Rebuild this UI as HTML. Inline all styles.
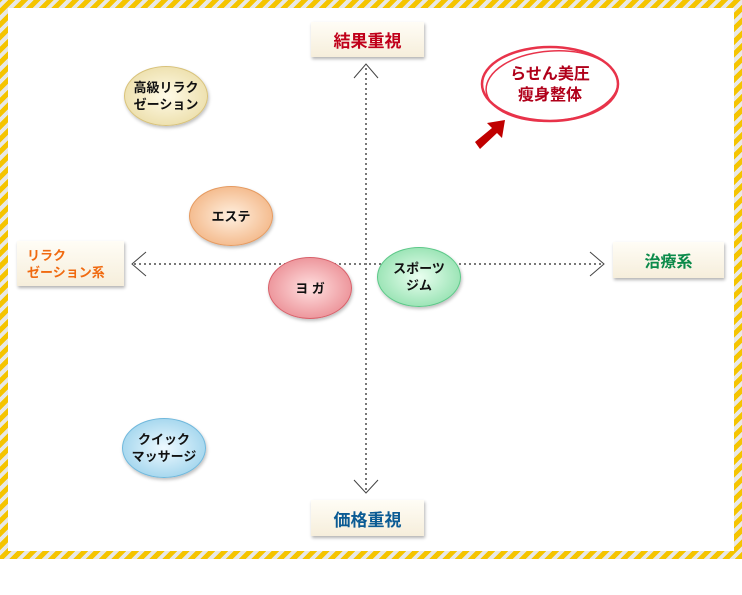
<!DOCTYPE html>
<html><head><meta charset="utf-8"><style>
body{margin:0;width:742px;height:595px;background:#fff;position:relative;overflow:hidden;font-family:"Liberation Sans","Noto Sans CJK JP",sans-serif;}
.frame{position:absolute;left:0;top:0;width:742px;height:559px;box-sizing:border-box;
background:repeating-linear-gradient(-45deg,#f5c400 0 5px,#e8e8e8 5px 9px);}
.inner{position:absolute;left:8px;top:8px;width:726px;height:543px;background:#fff;}
.lab{position:absolute;box-sizing:border-box;background:linear-gradient(#fffdf6,#f6eedb);box-shadow:1px 2px 3px rgba(0,0,0,.3);font-weight:bold;display:flex;align-items:center;justify-content:center;text-align:center;}
.el{position:absolute;box-sizing:border-box;border-radius:50%;display:flex;align-items:center;justify-content:center;text-align:center;font-weight:bold;font-size:13px;line-height:17px;color:#111;box-shadow:1px 2px 3px rgba(0,0,0,.25);}
</style></head><body>
<div class="frame"></div><div class="inner"></div>
<svg style="position:absolute;left:0;top:0" width="742" height="595">
<line x1="134" y1="264" x2="602" y2="264" stroke="#777" stroke-width="2" stroke-dasharray="2 3"/>
<line x1="366" y1="68" x2="366" y2="490" stroke="#777" stroke-width="2" stroke-dasharray="2 3"/>
<polyline points="146,252 132,264 146,276" fill="none" stroke="#444" stroke-width="1"/>
<polyline points="590,252 604,264 590,276" fill="none" stroke="#444" stroke-width="1"/>
<polyline points="354,78 366,64 378,78" fill="none" stroke="#444" stroke-width="1"/>
<polyline points="354,480 366,493 378,480" fill="none" stroke="#444" stroke-width="1"/>
<ellipse cx="550" cy="84" rx="68" ry="37" fill="none" stroke="#e8334a" stroke-width="2.5"/>
<ellipse cx="552" cy="86" rx="66" ry="35" fill="none" stroke="#e8334a" stroke-width="1.5" transform="rotate(-4 552 86)"/>
<polygon points="475,142 492,128 487,123 505,120 502,138 497,133 480,149" fill="#c00000"/>
</svg>
<div class="lab" style="left:311px;top:22px;width:113px;height:35px;color:#c0001a;font-size:17px">結果重視</div>
<div class="lab" style="left:311px;top:500px;width:113px;height:36px;color:#0b5b94;font-size:17px">価格重視</div>
<div class="lab" style="left:17px;top:241px;width:107px;height:45px;color:#f06a10;font-size:13px;line-height:17px;justify-content:flex-start;text-align:left;padding-left:10px">リラク<br>ゼーション系</div>
<div class="lab" style="left:613px;top:242px;width:111px;height:36px;color:#0b8a4a;font-size:16px">治療系</div>
<div style="position:absolute;left:482px;top:64px;width:136px;text-align:center;color:#b0001a;font-weight:bold;font-size:16px;line-height:21px">らせん美圧<br>瘦身整体</div>
<div class="el" style="left:124px;top:66px;width:84px;height:60px;border:1px solid #d8c27a;background:radial-gradient(#fffbe8,#e7d79a)">高級リラク<br>ゼーション</div>
<div class="el" style="left:189px;top:186px;width:84px;height:60px;border:1px solid #e59a60;background:radial-gradient(#fff0e0,#f0a870)">エステ</div>
<div class="el" style="left:268px;top:257px;width:84px;height:62px;border:1px solid #d8606a;background:radial-gradient(#ffe0e0,#e67a82)">ヨ ガ</div>
<div class="el" style="left:377px;top:247px;width:84px;height:60px;border:1px solid #5cc888;background:radial-gradient(#eafff0,#7edaa0)">スポーツ<br>ジム</div>
<div class="el" style="left:122px;top:418px;width:84px;height:60px;border:1px solid #70b8dc;background:radial-gradient(#eef9ff,#8ccbe8)">クイック<br>マッサージ</div>
</body></html>
